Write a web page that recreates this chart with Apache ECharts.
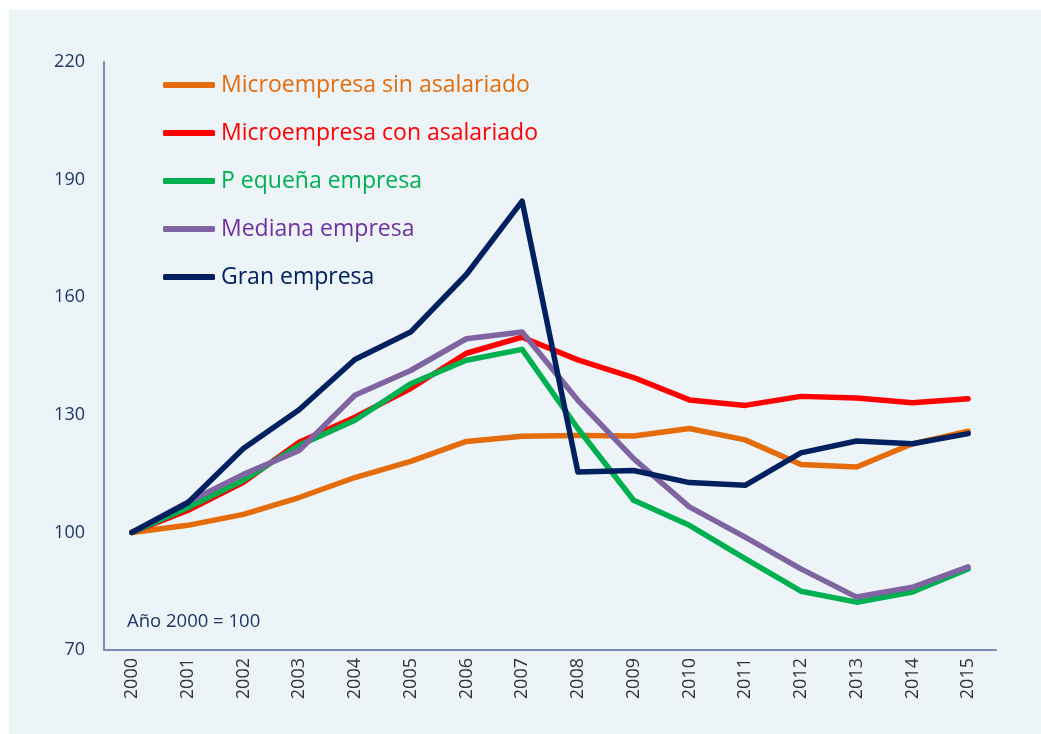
<!DOCTYPE html>
<html>
<head>
<meta charset="utf-8">
<script src="https://cdn.jsdelivr.net/npm/echarts@6/dist/echarts.min.js"></script>
<style>
html,body{margin:0;padding:0;background:#ffffff;}
#chart{width:1041px;height:734px;}
</style>
</head>
<body>
<div id="chart"></div>
<script>
var years = ['2000','2001','2002','2003','2004','2005','2006','2007','2008','2009','2010','2011','2012','2013','2014','2015'];
var seriesNames = ['Microempresa sin asalariado','Microempresa con asalariado','P equeña empresa','Mediana empresa','Gran empresa'];
var microSin = [100, 101.8, 104.6, 108.9, 114.0, 118.1, 123.2, 124.5, 124.7, 124.6, 126.5, 123.6, 117.3, 116.7, 122.6, 125.8];
var microCon = [100, 105.6, 112.8, 123.0, 129.4, 136.7, 145.7, 149.8, 144.0, 139.5, 133.8, 132.4, 134.7, 134.3, 133.1, 134.1];
var pequena  = [100, 106.3, 113.3, 122.2, 128.6, 137.9, 143.9, 146.7, 126.5, 108.2, 101.8, 93.3, 85.0, 82.2, 84.8, 90.7];
var mediana  = [100, 107.7, 114.8, 120.9, 135.0, 141.3, 149.4, 151.1, 133.7, 118.8, 106.5, 98.8, 90.7, 83.5, 86.0, 91.2];
var gran     = [100, 107.5, 121.4, 131.3, 144.1, 151.1, 165.8, 184.5, 115.4, 115.8, 112.7, 112.0, 120.3, 123.3, 122.6, 125.2];
var yTicks = [70, 100, 130, 160, 190, 220];
var note = 'Año 2000 = 100';

var lineColors = ['#E46C0A', '#FF0000', '#00B050', '#8064A2', '#002060'];
var textColors = ['#E46C0A', '#FF0000', '#00B050', '#7030A0', '#002060'];
var allData = [microSin, microCon, pequena, mediana, gran];

var chart = echarts.init(document.getElementById('chart'), null, {renderer:'canvas'});
var fontFam = '"Open Sans", "Noto Sans", sans-serif';

var series = allData.map(function(d, i){
  return {
    name: seriesNames[i],
    type: 'line',
    data: d,
    symbol: 'none',
    smooth: false,
    z: 2 + i,
    lineStyle: {color: lineColors[i], width: 5.5, cap: 'round', join: 'round'},
    itemStyle: {color: lineColors[i]}
  };
});

chart.setOption({
  animation: false,
  backgroundColor: 'transparent',
  graphic: [
    {type:'rect', shape:{x:9, y:10, width:1032, height:724}, style:{fill:'#ECF4F8'}, z:-10, silent:true},
    {type:'text', left:127, top:612, style:{text: note, fill:'#1F3468', font:'18.5px ' + fontFam}, z:10}
  ],
  grid: {left:104, right:45, top:62, bottom:84, containLabel:false},
  legend: {
    orient: 'vertical',
    left: 163,
    top: 71,
    padding: 0,
    itemWidth: 52,
    itemHeight: 6,
    itemGap: 20,
    icon: 'roundRect',
    selectedMode: false,
    data: seriesNames.map(function(n, i){
      return {name:n, textStyle:{color:textColors[i]}};
    }),
    textStyle: {fontSize:23, fontFamily: fontFam, lineHeight:28, padding:[0,0,0,1]}
  },
  xAxis: {
    type: 'category',
    data: years,
    boundaryGap: true,
    axisLine: {lineStyle:{color:'#7A8CB0', width:2}},
    axisTick: {show:false},
    axisLabel: {rotate:90, color:'#333333', fontSize:18, fontFamily: fontFam, margin:8, interval:0}
  },
  yAxis: {
    type: 'value',
    min: 70,
    max: 220,
    interval: 30,
    axisLine: {show:true, lineStyle:{color:'#7A8CB0', width:2}},
    axisTick: {show:false},
    splitLine: {show:false},
    axisLabel: {color:'#1F3468', fontSize:18, fontFamily: fontFam, margin:19,
      formatter: function(v){ return yTicks.indexOf(v) >= 0 ? String(v) : ''; }}
  },
  series: series
});
</script>
</body>
</html>
